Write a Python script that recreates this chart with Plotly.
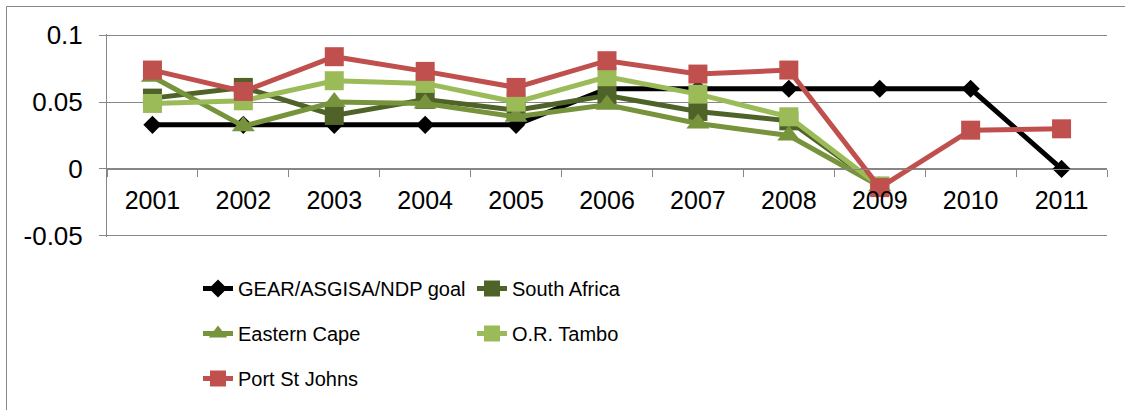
import plotly.graph_objects as go

years = ["2001", "2002", "2003", "2004", "2005", "2006", "2007", "2008", "2009", "2010", "2011"]

gear_goal = [0.033, 0.033, 0.033, 0.033, 0.033, 0.060, 0.060, 0.060, 0.060, 0.060, 0.000]
south_africa = [0.053, 0.061, 0.040, 0.052, 0.044, 0.055, 0.043, 0.036, -0.013, None, None]
eastern_cape = [0.069, 0.032, 0.050, 0.049, 0.039, 0.048, 0.034, 0.025, -0.013, None, None]
or_tambo = [0.049, 0.051, 0.066, 0.064, 0.050, 0.069, 0.056, 0.039, -0.013, None, None]
port_st_johns = [0.074, 0.058, 0.084, 0.073, 0.061, 0.081, 0.071, 0.074, -0.014, 0.029, 0.030]

y_tick_vals = [-0.05, 0, 0.05, 0.1]
y_tick_text = ["-0.05", "0", "0.05", "0.1"]

# name, values, colour, symbol, size, legend column
series = [
    ("GEAR/ASGISA/NDP goal", gear_goal, "#000000", "diamond", 14, "legend"),
    ("South Africa", south_africa, "#4F6228", "square", 19, "legend2"),
    ("Eastern Cape", eastern_cape, "#77933C", "triangle-up", 20, "legend"),
    ("O.R. Tambo", or_tambo, "#9BBB59", "square", 19, "legend2"),
    ("Port St Johns", port_st_johns, "#C0504D", "square", 19, "legend"),
]

fig = go.Figure()
for name, vals, color, symbol, size, leg in series:
    fig.add_trace(go.Scatter(
        x=years, y=vals, name=name, mode="lines+markers",
        line=dict(color=color, width=5),
        marker=dict(color=color, symbol=symbol, size=size, line=dict(width=0)),
        connectgaps=False, legend=leg, legendgroup=name,
    ))

grid = "#868686"
W, H = 1125, 410
ml, mr, mt, mb = 107, 18, 34, 173
pad = 0.001  # keeps the grid lines at 0.1 and -0.05 visible
ymin, ymax = -0.05 - pad, 0.1 + pad
zero_pos = (0 - ymin) / (ymax - ymin)
pw, ph = W - ml - mr, H - mt - mb

legend_font = dict(family="Liberation Sans, Arial, sans-serif", size=20, color="#000000")
leg_y = (H - mb - 269) / ph

fig.update_layout(
    width=W, height=H,
    margin=dict(l=ml, r=mr, t=mt, b=mb, autoexpand=False),
    paper_bgcolor="white", plot_bgcolor="white",
    font=dict(family="Liberation Sans, Arial, sans-serif", size=24, color="#000000"),
    showlegend=True,
    legend=dict(
        orientation="v", x=(198 - ml) / pw, xanchor="left", y=leg_y, yanchor="top",
        font=legend_font, tracegroupgap=16, bgcolor="rgba(0,0,0,0)",
    ),
    legend2=dict(
        orientation="v", x=(472 - ml) / pw, xanchor="left", y=leg_y, yanchor="top",
        font=legend_font, tracegroupgap=16, bgcolor="rgba(0,0,0,0)",
    ),
    xaxis=dict(
        type="category", anchor="free", position=zero_pos,
        showline=True, linecolor=grid, linewidth=1,
        ticks="outside", ticklen=7, tickcolor=grid, tickson="boundaries",
        showgrid=False, zeroline=False,
        tickfont=dict(size=25), ticklabelstandoff=9,
        range=[-0.5, len(years) - 0.5],
    ),
    yaxis=dict(
        range=[ymin, ymax], tickvals=y_tick_vals, ticktext=y_tick_text,
        showline=True, linecolor=grid, linewidth=1,
        ticks="outside", ticklen=7, tickcolor=grid,
        showgrid=True, gridcolor=grid, gridwidth=1, zeroline=False,
        tickfont=dict(size=26), ticklabelstandoff=11,
    ),
    shapes=[dict(
        type="rect", xref="paper", yref="paper",
        x0=(6.5 - ml) / pw, x1=1.1,
        y0=-1.2, y1=(H - mb - 6.5) / ph,
        line=dict(color=grid, width=1), fillcolor="rgba(0,0,0,0)", layer="below",
    )],
)

fig.write_html(
    "out.html",
    config={"displayModeBar": False},
    post_script="document.body.style.margin='0px';",
)
